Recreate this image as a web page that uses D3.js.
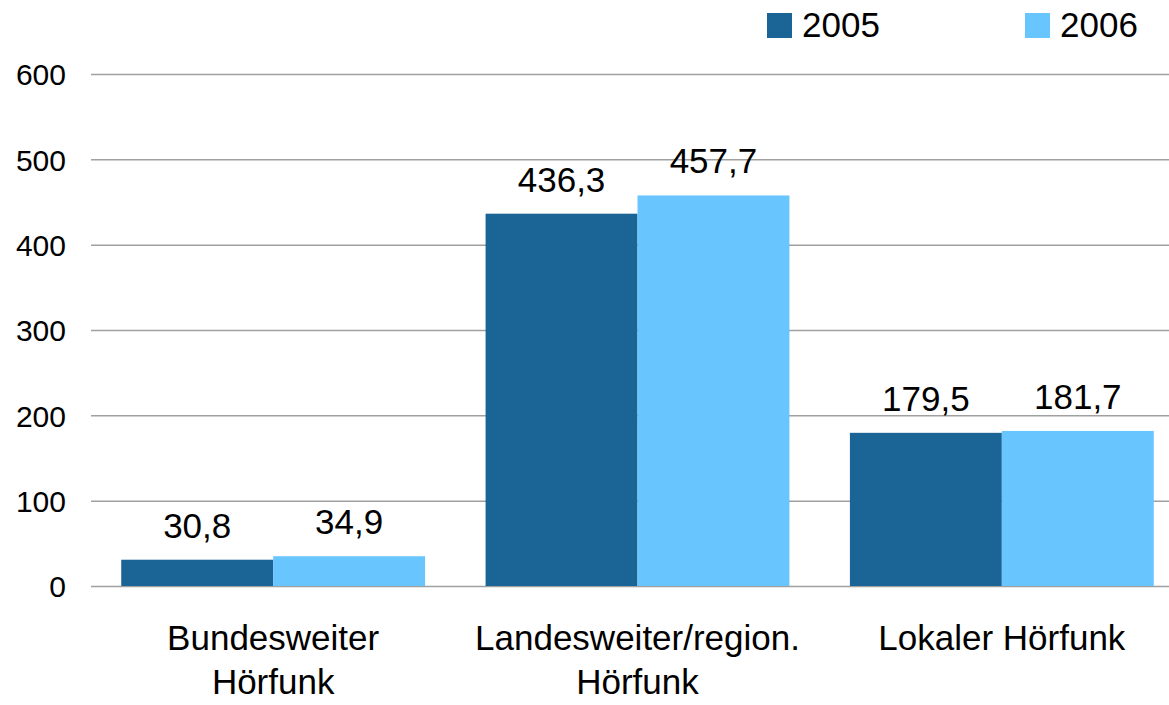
<!DOCTYPE html>
<html>
<head>
<meta charset="utf-8">
<script src="https://cdn.jsdelivr.net/npm/d3@7"></script>
<style>
  body { margin: 0; background: #fff; }
  text { font-family: "Liberation Sans", Arial, sans-serif; fill: #000; }
</style>
</head>
<body>
<div id="chart"></div>
<script>
// data
var categories = [["Bundesweiter", "Hörfunk"], ["Landesweiter/region.", "Hörfunk"], ["Lokaler Hörfunk"]];
var series = ["2005", "2006"];
var values2005 = [30.8, 436.3, 179.5];
var values2006 = [34.9, 457.7, 181.7];
var yTicks = [0, 100, 200, 300, 400, 500, 600];
var colors = ["#1b6496", "#69c5fe"];

var W = 1169, H = 705;
var margin = {top: 74, left: 91, right: -15, bottom: 119};
var width = W - margin.left - margin.right,
    height = H - margin.top - margin.bottom;

var rows = categories.map(function(c, i){
  return {cat: i, label: c, vals: [values2005[i], values2006[i]]};
});

var svg = d3.select("#chart").append("svg")
  .attr("width", W)
  .attr("height", H);

var g = svg.append("g")
  .attr("transform", "translate(" + margin.left + "," + margin.top + ")");

var y = d3.scaleLinear().domain([0, 600]).range([height, 0]);

var x0 = d3.scaleBand()
  .domain(rows.map(function(d){ return d.cat; }))
  .range([0, width])
  .paddingInner(0.166)
  .paddingOuter(0.083);

var x1 = d3.scaleBand()
  .domain([0, 1])
  .range([0, x0.bandwidth()]);

// gridlines + y labels
var yAxis = g.append("g")
  .attr("class", "y-axis")
  .call(d3.axisLeft(y).tickValues(yTicks).tickSize(-width).tickPadding(25).tickFormat(d3.format("d")));
yAxis.select(".domain").remove();
yAxis.selectAll("line").attr("stroke", "#a0a0a0").attr("stroke-width", 1.5);
yAxis.selectAll("text")
  .style("font-size", "30px")
  .attr("fill", "#000")
  .attr("dy", "0.36em");

// bars
var groups = g.selectAll(".grp")
  .data(rows)
  .enter().append("g")
  .attr("class", "grp")
  .attr("transform", function(d){ return "translate(" + x0(d.cat) + ",0)"; });

groups.selectAll("rect")
  .data(function(d){ return d.vals.map(function(v, i){ return {s: i, v: v}; }); })
  .enter().append("rect")
  .attr("x", function(d){ return x1(d.s); })
  .attr("y", function(d){ return y(d.v); })
  .attr("width", x1.bandwidth())
  .attr("height", function(d){ return height - y(d.v); })
  .attr("fill", function(d){ return colors[d.s]; });

groups.selectAll(".val")
  .data(function(d){ return d.vals.map(function(v, i){ return {s: i, v: v}; }); })
  .enter().append("text")
  .attr("class", "val")
  .attr("x", function(d){ return x1(d.s) + x1.bandwidth() / 2; })
  .attr("y", function(d){ return y(d.v) - 22; })
  .attr("text-anchor", "middle")
  .style("font-size", "35px")
  .text(function(d){ return d3.format(".1f")(d.v).replace(".", ","); });

// category labels
groups.append("text")
  .attr("text-anchor", "middle")
  .attr("x", x0.bandwidth() / 2)
  .attr("y", height + 64)
  .style("font-size", "35px")
  .selectAll("tspan")
  .data(function(d){ return d.label; })
  .enter().append("tspan")
  .attr("x", x0.bandwidth() / 2)
  .attr("dy", function(d, i){ return i === 0 ? 0 : 44; })
  .text(function(d){ return d; });

// legend
var legend = svg.append("g").attr("class", "legend");
var legX = [767, 1025];
series.forEach(function(s, i){
  legend.append("rect")
    .attr("x", legX[i]).attr("y", 13)
    .attr("width", 25).attr("height", 25)
    .attr("fill", colors[i]);
  legend.append("text")
    .attr("x", legX[i] + 35).attr("y", 37)
    .style("font-size", "35px")
    .text(s);
});
</script>
</body>
</html>
